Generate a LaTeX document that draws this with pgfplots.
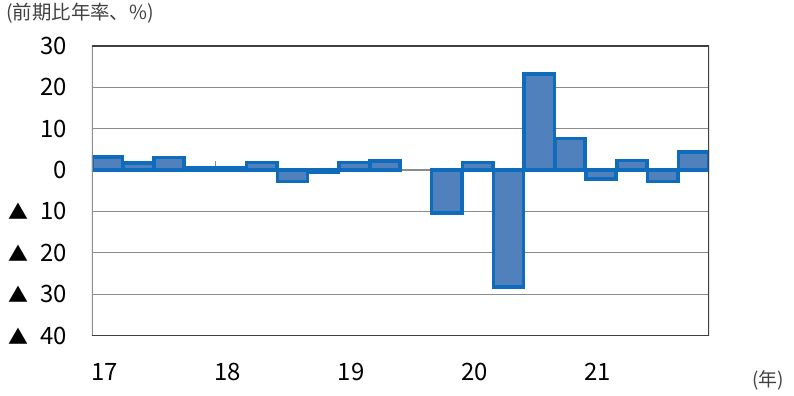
\documentclass[border=0pt]{standalone}
\usepackage{pgfplots}
\pgfplotsset{compat=1.18}
\usepackage{fontspec}
\setmainfont{Noto Sans CJK JP}
\definecolor{barfill}{HTML}{5081BD}
\definecolor{barline}{HTML}{0F6CBD}
\definecolor{gridc}{HTML}{8C8C8C}
\definecolor{framec}{HTML}{404040}
\newcommand{\tri}{{\fontsize{20}{22}\selectfont ▲}\hspace{12bp}}
\begin{document}
\begin{tikzpicture}
\path[use as bounding box] (-92bp,-60.3bp) rectangle (702bp,335.7bp);
\begin{axis}[
  at={(0,0)}, anchor=south west,
  scale only axis, width=617bp, height=290bp,
  xmin=-0.5, xmax=19.5, ymin=-40, ymax=30,
  axis line style={draw=none},
  major tick length=0pt,
  ymajorgrids, grid style={gridc, line width=1.1bp},
  ytick={-40,-30,-20,-10,0,10,20,30},
  yticklabels={\tri 40,\tri 30,\tri 20,\tri 10,0,10,20,30},
  xtick={-0.1,3.9,7.9,11.9,15.9},
  xticklabels={17,18,19,20,21},
  tick label style={font=\fontsize{24}{28}\selectfont, text=black},
  yticklabel style={anchor=east, inner sep=0pt, xshift=-25bp},
  xticklabel style={anchor=center, inner sep=0pt, yshift=-36bp},
  /pgf/number format/assume math mode=true,
]
\draw[gridc, line width=1.1bp] (axis cs:3.5,0) -- (axis cs:3.5,2.2);
\draw[gridc, line width=1.1bp] (axis cs:7.5,0) -- (axis cs:7.5,2.2);
\draw[gridc, line width=1.1bp] (axis cs:11.5,0) -- (axis cs:11.5,2.2);
\draw[gridc, line width=1.1bp] (axis cs:15.5,0) -- (axis cs:15.5,2.2);
\addplot[ybar, bar width=0.98, fill=barfill, draw=barline, line width=3.6bp] coordinates {
 (0,3.1) (1,1.7) (2,3.0) (3,0.45) (4,0.55) (5,1.8) (6,-2.8) (7,-0.5)
 (8,1.8) (9,2.1) (11,-10.4) (12,1.8) (13,-28.3) (14,23.1) (15,7.6)
 (16,-2.2) (17,2.3) (18,-2.8) (19,4.3)
};
\draw[gridc, line width=1.5bp] (rel axis cs:0,0) -- (rel axis cs:0,1);
\draw[framec, line width=2bp] (rel axis cs:0,1) -- (rel axis cs:1,1) -- (rel axis cs:1,0) -- (rel axis cs:0,0);
\end{axis}
\node[anchor=west, inner sep=0pt, font=\fontsize{19.5}{22}\selectfont, text=framec] at (-86bp,322.7bp) {(前期比年率、\%)};
\node[anchor=center, inner sep=0pt, font=\fontsize{19}{22}\selectfont, text=framec] at (676bp,-44.3bp) {(年)};
\end{tikzpicture}
\end{document}
